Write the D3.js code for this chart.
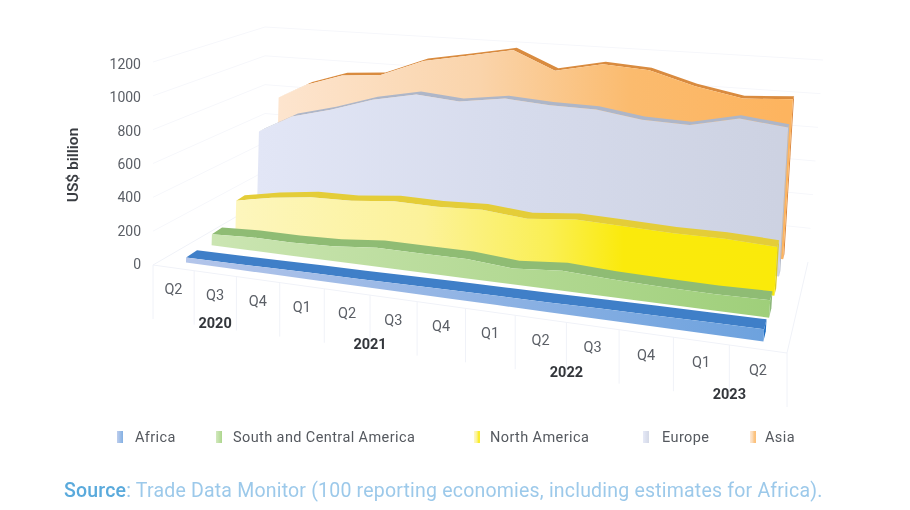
<!DOCTYPE html>
<html><head><meta charset="utf-8">
<script src="https://cdn.jsdelivr.net/npm/d3@7/dist/d3.min.js"></script>
<style>html,body{margin:0;padding:0;background:#fff}svg{display:block;filter:blur(.45px)}text{font-family:Roboto,"Noto Sans",sans-serif}</style>
</head><body><svg id="c" width="910" height="510"></svg>
<script>
const quarters=["Q2","Q3","Q4","Q1","Q2","Q3","Q4","Q1","Q2","Q3","Q4","Q1","Q2"];
const years=[["2020",1],["2021",4.5],["2022",8.5],["2023",11.5]];
const yTicks=[0,200,400,600,800,1000,1200];
const africa=[30,32,35,38,40,43,46,48,50,54,56,58,60];
const southCentral=[69,80,78,86,110,108,108,87,108,95,88,85,90];
const northAmerica=[184,228,258,262,287,283,293,269,295,286,277,278,265];
const europe=[557,675,740,825,880,855,895,875,870,830,820,880,850];
const asia=[722,824,905,926,1040,1092,1148,1032,1094,1075,994,940,958];
const seriesNames=["Africa","South and Central America","North America","Europe","Asia"];
const seriesValues=[africa,southCentral,northAmerica,europe,asia];
const seriesDepth=[.07,.31,.55,.78,1.0];
const stripDepth=[.1,.1,.09,.07,.07];
const faceStops=[
 [[0,"#b3c5ea"],[1,"#6da2de"]],
 [[0,"#cbe5b2"],[1,"#9fcf7a"]],
 [[0,"#fdf6bd"],[.35,"#fcf29a"],[.58,"#faef55"],[.72,"#faea0c"],[1,"#faea0a"]],
 [[0,"#e2e6f6"],[.5,"#d6dbec"],[1,"#cdd2e2"]],
 [[0,"#fde5cf"],[.4,"#fad4ab"],[.7,"#fbbb6e"],[1,"#fdb45f"]]];
const stripColors=["#3f7fc8","#8fbc74","#e4cd38","#aeb6c8","#d98b3f"];
const capColors=["#1f6fc4","#8db87a","#dccb22","#b4bbca","#d9843a"];
const legendX=[117,216,474,643,750];
const legendTextX=[135,233,490,662,765];

const svg=d3.select("#c");
function quad(p){
 const [a,b,c,d]=p;
 const dx1=b[0]-c[0],dx2=d[0]-c[0],sx=a[0]-b[0]+c[0]-d[0];
 const dy1=b[1]-c[1],dy2=d[1]-c[1],sy=a[1]-b[1]+c[1]-d[1];
 const den=dx1*dy2-dx2*dy1;
 const g=(sx*dy2-dx2*sy)/den,h=(dx1*sy-sx*dy1)/den;
 const A=b[0]-a[0]+g*b[0],B=d[0]-a[0]+h*d[0],C=a[0];
 const D=b[1]-a[1]+g*b[1],E=d[1]-a[1]+h*d[1],F=a[1];
 return (u,v)=>{const w=g*u+h*v+1;return [(A*u+B*v+C)/w,(D*u+E*v+F)/w];};
}
const hScale=d3.scaleLinear().domain([0,1200]).range([0,1]);
function makeProj(f,c){const fq=quad(f),cq=quad(c);
 return (u,v,h)=>{const a=fq(u,v),b=cq(u,v),t=hScale(h);return [a[0]+(b[0]-a[0])*t,a[1]+(b[1]-a[1])*t];};}
const proj=makeProj([[153,265],[787,353],[808,262],[265,200]],[[153,62],[803,98],[823,60],[265,27]]);
const dataProj=makeProj([[158,265],[791,353],[808,262],[258,200]],[[158,62],[801,98],[816,60],[258,27]]);
const n=quarters.length-1;
const uScale=d3.scalePoint().domain(d3.range(quarters.length)).range([0,1]).padding(.5);
const edge=d3.scaleLinear().domain([0,quarters.length]).range([0,1]);
// u position of a quarter on a ribbon: spacing widens towards the right, more so further back
const ribbonU=k=>{
 const warp=d3.scalePow().exponent(1+.17*seriesDepth[k]*seriesDepth[k]).domain([0,n]).range([uScale(0),uScale(n)]);
 return i=>warp(i);
};

const defs=svg.append("defs");
faceStops.forEach((st,k)=>{
 const x0=dataProj(uScale(0),seriesDepth[k],0)[0],x1=dataProj(uScale(n),seriesDepth[k],0)[0];
 const g=defs.append("linearGradient").attr("id","f"+k).attr("gradientUnits","userSpaceOnUse")
  .attr("x1",x0).attr("x2",x1).attr("y1",0).attr("y2",0);
 st.forEach(s=>g.append("stop").attr("offset",s[0]).attr("stop-color",s[1]));
 const s=defs.append("linearGradient").attr("id","s"+k).attr("x1",0).attr("x2",1).attr("y1",0).attr("y2",0);
 st.forEach(t=>s.append("stop").attr("offset",t[0]).attr("stop-color",t[1]));
});

const ln=d3.line();
const wallG=svg.append("g").attr("fill","none").attr("stroke","#f6f7fb").attr("stroke-width",1);
yTicks.slice(1).forEach(t=>{
 wallG.append("path").attr("d",ln([proj(0,0,t),proj(0,1,t),proj(1,1,t)]));
});
const floorG=svg.append("g").attr("fill","none").attr("stroke","#f0f2f8").attr("stroke-width",1);
floorG.append("path").attr("d",ln([proj(0,1,0),proj(0,0,0),proj(1,0,0),proj(1,1,0)]));
d3.range(quarters.length+1).forEach(i=>{
 const p=proj(edge(i),0,0);
 floorG.append("path").attr("d",ln([p,[p[0],p[1]+54]]));
});

const area=d3.area().x0(d=>d[0][0]).y0(d=>d[0][1]).x1(d=>d[1][0]).y1(d=>d[1][1]);
d3.range(seriesValues.length).reverse().forEach(k=>{
 const vals=seriesValues[k],v=seriesDepth[k],vb=v+stripDepth[k];
 const g=svg.append("g");
 const u=ribbonU(k);
 g.append("path").attr("fill",capColors[k]).attr("d",ln([dataProj(u(n),v,0),dataProj(u(n),v,vals[n]),dataProj(u(n),vb,vals[n]),dataProj(u(n),vb,0)])+"Z");
 g.append("path").attr("fill",stripColors[k]).attr("d",area(vals.map((d,i)=>[dataProj(u(i),v,d),dataProj(u(i),vb,d)])));
 g.append("path").attr("fill",`url(#f${k})`).attr("d",area(vals.map((d,i)=>[dataProj(u(i),v,0),dataProj(u(i),v,d)])));
});

const labelC="#5b5f66";
yTicks.forEach(t=>{
 const p=proj(0,0,t);
 svg.append("text").attr("x",p[0]-12).attr("y",p[1]-1+3*hScale(t)).attr("dy",".36em").attr("text-anchor","end")
  .attr("font-size",14).attr("fill",labelC).text(t);
});
svg.append("text").attr("transform","translate(78,165) rotate(-90)").attr("text-anchor","middle")
 .attr("font-size",15.5).attr("font-weight",600).attr("fill","#3a3d42").text("US$ billion");
quarters.forEach((q,i)=>{
 const p=proj(uScale(i),0,0);
 svg.append("text").attr("x",p[0]).attr("y",p[1]+21).attr("dy",".36em").attr("text-anchor","middle")
  .attr("font-size",14.5).attr("fill",labelC).text(q);
});
years.forEach(([y,i])=>{
 const p=proj(uScale(0)+i*(uScale(1)-uScale(0)),0,0);
 svg.append("text").attr("x",p[0]).attr("y",p[1]+49).attr("dy",".36em").attr("text-anchor","middle")
  .attr("font-size",14.5).attr("font-weight",700).attr("fill","#33363b").text(y);
});
seriesNames.forEach((s,k)=>{
 svg.append("rect").attr("x",legendX[k]).attr("y",431).attr("width",6).attr("height",12).attr("fill",`url(#s${k})`).attr("opacity",.85);
 svg.append("text").attr("x",legendTextX[k]).attr("y",437).attr("dy",".36em").attr("font-size",14.5)
  .attr("letter-spacing",.4).attr("fill","#55595f").text(s);
});
const src=svg.append("text").attr("x",64).attr("y",490).attr("dy",".36em").attr("font-size",19.5).attr("letter-spacing",.2);
src.append("tspan").attr("fill","#5aaadc").attr("font-weight",500).text("Source");
src.append("tspan").attr("fill","#9cc9ea").text(": Trade Data Monitor (100 reporting economies, including estimates for Africa).");
</script></body></html>
